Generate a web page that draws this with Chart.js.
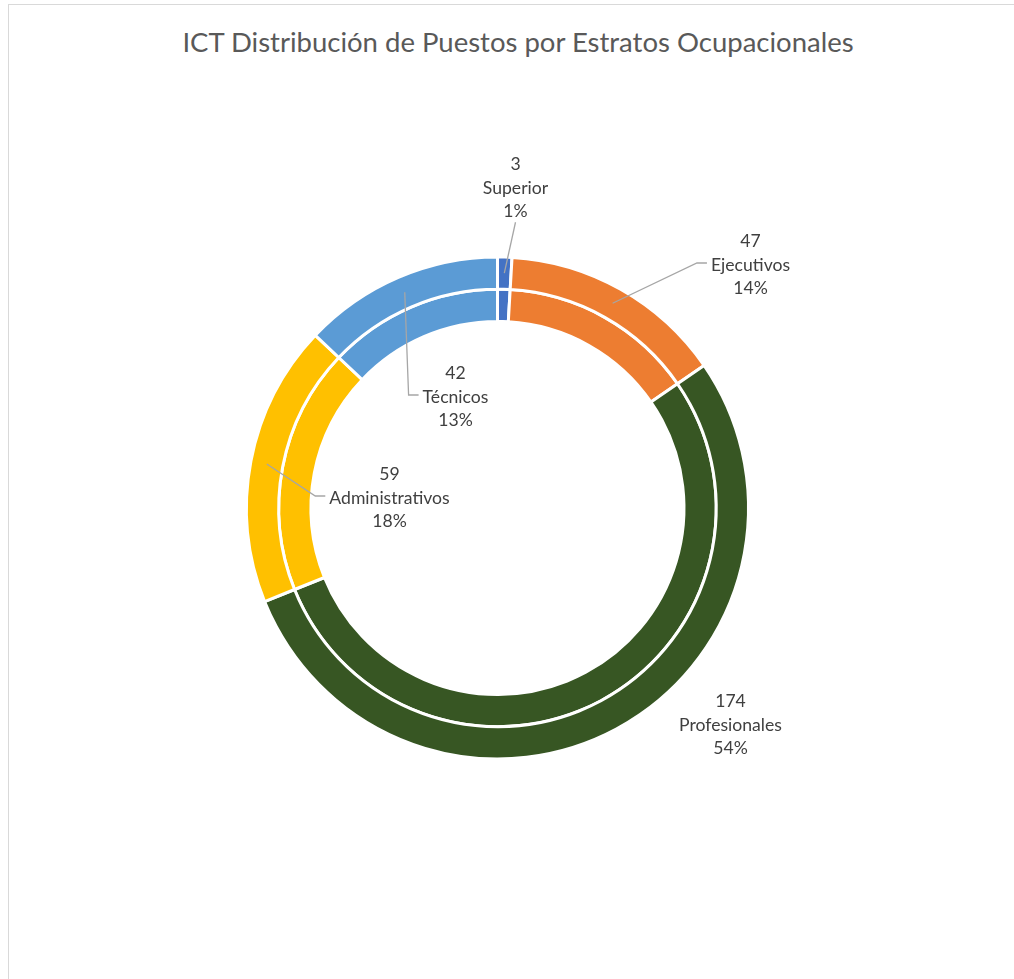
<!DOCTYPE html>
<html>
<head>
<meta charset="utf-8">
<script src="https://cdn.jsdelivr.net/npm/chart.js@4.4.0/dist/chart.umd.min.js"></script>
<style>
  html, body { margin: 0; padding: 0; background: #fff; overflow: hidden; }
  #frame { position: absolute; left: 8px; top: 4px; width: 1100px; height: 1100px; border: 1px solid #d9d9d9; }
  #title { position: absolute; left: 8px; width: 1020px; top: 27px; text-align: center;
           font: 27.5px/30px Lato, sans-serif; color: #595959; white-space: nowrap; }
  #chart { position: absolute; left: 0; top: 0; }
</style>
</head>
<body>
<div id="frame"></div>
<div id="title">ICT Distribución de Puestos por Estratos Ocupacionales</div>
<canvas id="chart" width="1014" height="979"></canvas>
<script>
// data
const categories = ['Superior', 'Ejecutivos', 'Profesionales', 'Administrativos', 'Técnicos'];
const puestos = [3, 47, 174, 59, 42];

// styling
const colors = ['#4472C4', '#ED7D31', '#375623', '#FFC000', '#5B9BD5'];
// label block centre, relative to the doughnut centre (px)
const labelOffsets = [[18, -320], [253, -243], [233, 217], [-108, -10], [-42, -111]];
const showLeader = [true, true, false, true, true];

const total = puestos.reduce((a, b) => a + b, 0);

// draws the "value / category / percent" labels with leader lines
const sliceLabels = {
    id: 'sliceLabels',
    afterDatasetsDraw(chart) {
        const ctx = chart.ctx;
        const meta = chart.getDatasetMeta(0);
        const lineH = 23.5;
        ctx.save();
        ctx.font = '17.6px Lato, sans-serif';
        ctx.textAlign = 'center';
        ctx.textBaseline = 'middle';

        meta.data.forEach((arc, i) => {
            const p = arc.getProps(['x', 'y', 'startAngle', 'endAngle', 'innerRadius', 'outerRadius'], true);
            const lx = p.x + labelOffsets[i][0];
            const ly = p.y + labelOffsets[i][1];
            const lines = [String(puestos[i]), categories[i], Math.round(puestos[i] / total * 100) + '%'];

            if (showLeader[i]) {
                const mid = (p.startAngle + p.endAngle) / 2;
                const r = (p.innerRadius + p.outerRadius) / 2;
                const tx = p.x + Math.cos(mid) * r;
                const ty = p.y + Math.sin(mid) * r;
                const half = Math.max(...lines.map(t => ctx.measureText(t).width)) / 2;

                ctx.strokeStyle = '#a6a6a6';
                ctx.lineWidth = 1.3;
                ctx.beginPath();
                if (tx >= lx - half && tx <= lx + half) {
                    const sy = ty > ly ? ly + lineH * 1.5 - 1 : ly - lineH * 1.5 + 1;
                    ctx.moveTo(lx, sy);
                    ctx.lineTo(tx, ty);
                } else {
                    const side = tx < lx ? -1 : 1;
                    const sx = lx + side * (half + 4);
                    ctx.moveTo(sx, ly - 2);
                    ctx.lineTo(sx + side * 10, ly - 2);
                    ctx.lineTo(tx, ty);
                }
                ctx.stroke();
            }

            ctx.fillStyle = '#404040';
            lines.forEach((t, k) => ctx.fillText(t, lx, ly + (k - 1) * lineH));
        });
        ctx.restore();
    }
};

const ring = () => ({
    data: puestos,
    backgroundColor: colors,
    borderColor: '#ffffff',
    borderWidth: 3
});

new Chart(document.getElementById('chart'), {
    type: 'doughnut',
    data: {
        labels: categories,
        datasets: [ring(), ring()]
    },
    options: {
        responsive: false,
        devicePixelRatio: 1,
        animation: false,
        events: [],
        radius: 251,
        cutout: '74.3%',
        layout: { padding: { left: 0, right: 19, top: 37, bottom: 0 } },
        plugins: {
            legend: { display: false },
            tooltip: { enabled: false }
        }
    },
    plugins: [sliceLabels]
});
</script>
</body>
</html>
